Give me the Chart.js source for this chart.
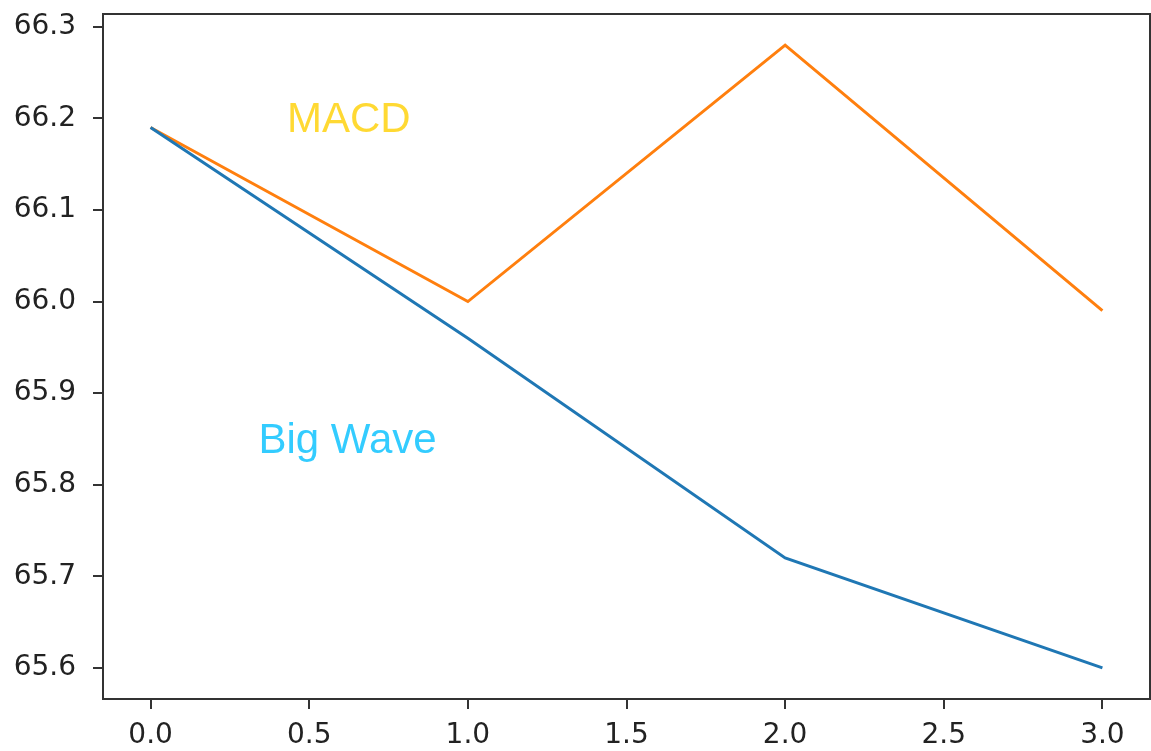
<!DOCTYPE html>
<html>
<head>
<meta charset="utf-8">
<script src="https://cdn.jsdelivr.net/npm/chart.js@4.4.1/dist/chart.umd.min.js"></script>
<style>
  html, body { margin: 0; padding: 0; background: #fff; }
  #wrap { width: 1151px; height: 751px; }
</style>
</head>
<body>
<div id="wrap"><canvas id="chart"></canvas></div>
<script>
// x positions and the two series
const xValues = [0, 1, 2, 3];
const bigWave = [66.19, 65.96, 65.72, 65.60];
const macd = [66.19, 66.00, 66.28, 65.99];

// tick labels
const xTicks = [0, 0.5, 1, 1.5, 2, 2.5, 3];
const xTickLabels = ['0.0', '0.5', '1.0', '1.5', '2.0', '2.5', '3.0'];
const yTicks = [65.6, 65.7, 65.8, 65.9, 66.0, 66.1, 66.2, 66.3];
const yTickLabels = ['65.6', '65.7', '65.8', '65.9', '66.0', '66.1', '66.2', '66.3'];

// text labels in the plot (data coords, left/baseline)
const noteTexts = ['MACD', 'Big Wave'];
const noteX = [0.43, 0.34];
const noteY = [66.185, 65.835];
const noteColors = ['rgba(255, 208, 0, 0.8)', 'rgba(0, 191, 255, 0.8)'];

const tickFont = { family: 'DejaVu Sans', size: 28 };
const axisColor = '#333333';

// frame on top and right, plus the text notes
const framePlugin = {
  id: 'frame',
  afterDraw(chart) {
    const { ctx, chartArea, scales } = chart;
    ctx.save();
    ctx.strokeStyle = axisColor;
    ctx.lineWidth = 2;
    ctx.beginPath();
    ctx.moveTo(chartArea.left, chartArea.top);
    ctx.lineTo(chartArea.right, chartArea.top);
    ctx.lineTo(chartArea.right, chartArea.bottom);
    ctx.stroke();

    ctx.font = '42px "Liberation Sans"';
    ctx.textAlign = 'left';
    ctx.textBaseline = 'alphabetic';
    noteTexts.forEach((t, i) => {
      ctx.fillStyle = noteColors[i];
      ctx.fillText(t, scales.x.getPixelForValue(noteX[i]), scales.y.getPixelForValue(noteY[i]));
    });
    ctx.restore();
  }
};

new Chart(document.getElementById('chart'), {
  type: 'line',
  data: {
    datasets: [{
      label: 'Big Wave',
      data: xValues.map((x, i) => ({ x: x, y: bigWave[i] })),
      borderColor: '#1f77b4',
      borderWidth: 3,
      pointRadius: 0,
      tension: 0,
      fill: false
    }, {
      label: 'MACD',
      data: xValues.map((x, i) => ({ x: x, y: macd[i] })),
      borderColor: '#ff7f0e',
      borderWidth: 3,
      pointRadius: 0,
      tension: 0,
      fill: false
    }]
  },
  options: {
    responsive: true,
    maintainAspectRatio: false,
    animation: false,
    layout: { padding: { top: 14, right: 1, left: 0, bottom: 0 } },
    plugins: {
      legend: { display: false },
      tooltip: { enabled: false }
    },
    scales: {
      x: {
        type: 'linear',
        min: -0.15,
        max: 3.15,
        afterBuildTicks: (axis) => { axis.ticks = xTicks.map(v => ({ value: v })); },
        afterFit: (axis) => {
          axis.height = 52;
          axis.paddingLeft = 0;
          axis.paddingRight = 0;
        },
        grid: { drawOnChartArea: false, drawTicks: true, tickLength: 10, color: axisColor, lineWidth: 2 },
        border: { display: true, color: axisColor, width: 2 },
        ticks: {
          font: tickFont,
          color: '#222',
          padding: 10,
          maxRotation: 0,
          autoSkip: false,
          callback: (v) => xTickLabels[xTicks.indexOf(v)] ?? ''
        }
      },
      y: {
        type: 'linear',
        min: 65.566,
        max: 66.314,
        afterBuildTicks: (axis) => { axis.ticks = yTicks.map(v => ({ value: v })); },
        afterFit: (axis) => {
          axis.width = 103;
          axis.paddingTop = 0;
          axis.paddingBottom = 0;
        },
        grid: { drawOnChartArea: false, drawTicks: true, tickLength: 10, color: axisColor, lineWidth: 2 },
        border: { display: true, color: axisColor, width: 2 },
        ticks: {
          font: tickFont,
          color: '#222',
          padding: 17,
          autoSkip: false,
          callback: (v) => {
            const i = yTicks.findIndex(t => Math.abs(t - v) < 1e-9);
            return i >= 0 ? yTickLabels[i] : '';
          }
        }
      }
    }
  },
  plugins: [framePlugin]
});
</script>
</body>
</html>
